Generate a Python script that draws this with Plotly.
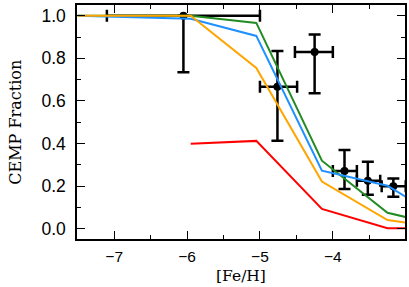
import plotly.graph_objects as go

# Observational CEMP fractions
obs_feh = [-6.05, -4.76, -4.25, -3.84, -3.52, -3.17]
obs_frac = [1.0, 0.667, 0.830, 0.272, 0.226, 0.200]
obs_err_plus = [0.0, 0.167, 0.082, 0.098, 0.089, 0.037]
obs_err_minus = [0.265, 0.253, 0.194, 0.085, 0.066, 0.049]
obs_xerr_minus = [1.05, 0.24, 0.27, 0.16, 0.15, 0.16]
obs_xerr_plus = [1.05, 0.27, 0.25, 0.17, 0.17, 0.17]

# Model curves
model_feh = [-7.5, -5.95, -5.05, -4.15, -3.25, -3.0]
green_frac = [1.0, 1.0, 0.966, 0.320, 0.076, 0.056]
blue_frac = [1.0, 0.985, 0.905, 0.273, 0.203, 0.151]
orange_frac = [1.0, 1.0, 0.755, 0.222, 0.042, 0.030]
red_frac = [None, 0.400, 0.413, 0.094, 0.003, 0.003]

x_ticks = [-7, -6, -5, -4]
y_ticks = [0.0, 0.2, 0.4, 0.6, 0.8, 1.0]

fig = go.Figure()

fig.add_trace(go.Scatter(
    x=obs_feh, y=obs_frac, mode="markers",
    marker=dict(color="black", size=8, symbol="circle"),
    error_y=dict(type="data", symmetric=False, array=obs_err_plus,
                 arrayminus=obs_err_minus, color="black", thickness=2.5, width=6),
    error_x=dict(type="data", symmetric=False, array=obs_xerr_plus,
                 arrayminus=obs_xerr_minus, color="black", thickness=2.5, width=6),
    showlegend=False, cliponaxis=True,
))

for vals, col in [(red_frac, "#ff0000"), (green_frac, "#228b22"),
                  (blue_frac, "#1e90ff"), (orange_frac, "#ffa500")]:
    fig.add_trace(go.Scatter(x=model_feh, y=vals, mode="lines",
                             line=dict(color=col, width=2),
                             connectgaps=False, showlegend=False))

axis_common = dict(
    showgrid=False, zeroline=False, showline=True, linecolor="black",
    linewidth=1.5, mirror="ticks", ticks="inside", ticklen=8,
    tickwidth=1.3, tickcolor="black", automargin=False,
)

fig.update_xaxes(
    range=[-7.51, -3.01], tickvals=x_ticks,
    ticktext=["\u22127", "\u22126", "\u22125", "\u22124"],
    minor=dict(dtick=0.5, tick0=-7, ticks="inside", ticklen=4, tickwidth=1.3, tickcolor="black"),
    ticklabelstandoff=3,
    tickfont=dict(family="Liberation Sans, Arial, sans-serif", size=15.5, color="black"),
    **axis_common,
)
fig.update_yaxes(
    range=[-0.047, 1.05], tickvals=y_ticks,
    ticktext=[f"{v:.1f}" for v in y_ticks],
    minor=dict(dtick=0.1, tick0=0, ticks="inside", ticklen=4, tickwidth=1.3, tickcolor="black"),
    ticklabelstandoff=6,
    tickfont=dict(family="Liberation Sans, Arial, sans-serif", size=17.5, color="black"),
    **axis_common,
)

serif = "DejaVu Serif"
fig.update_layout(
    width=409, height=287,
    margin=dict(l=77, r=4, t=5, b=48),
    paper_bgcolor="white", plot_bgcolor="white",
    annotations=[
        dict(text="[Fe/H]", xref="paper", yref="paper", x=0.5, y=-0.158,
             xanchor="center", yanchor="middle", showarrow=False, borderpad=0,
             font=dict(family=serif, size=15.5, color="black")),
        dict(text="CEMP Fraction", xref="paper", yref="paper", x=-0.19, y=0.5,
             xanchor="center", yanchor="middle", showarrow=False, textangle=-90,
             font=dict(family=serif, size=16, color="black")),
    ],
)

fig.write_html("out.html", config={"displayModeBar": False},
               post_script="document.body.style.margin='0px';document.body.style.padding='0px';")
